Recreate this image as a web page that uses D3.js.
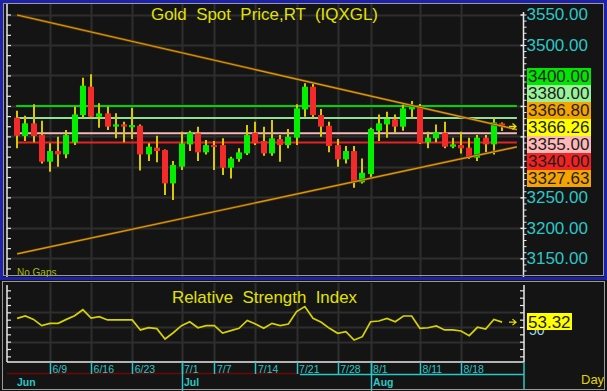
<!DOCTYPE html>
<html><head><meta charset="utf-8">
<script src="https://cdn.jsdelivr.net/npm/d3@7"></script>
<style>
html,body{margin:0;padding:0;background:#141414;overflow:hidden}
svg{display:block;font-family:"Liberation Sans",Arial,sans-serif}
</style></head><body>
<svg id="c" width="607" height="391"></svg>
<script>
// ---------- data ----------
const dates = ["6/3","6/4","6/5","6/6","6/9","6/10","6/11","6/12","6/13","6/16","6/17","6/18","6/19","6/20","6/23","6/24","6/25","6/26","6/27","6/30",
"7/1","7/2","7/3","7/4","7/7","7/8","7/9","7/10","7/11","7/14","7/15","7/16","7/17","7/18","7/21","7/22","7/23","7/24","7/25","7/28","7/29","7/30","7/31",
"8/1","8/4","8/5","8/6","8/7","8/8","8/11","8/12","8/13","8/14","8/15","8/18","8/19","8/20","8/21","8/22","8/25"];
const openP  = [3380.7,3350.6,3371.4,3352.2,3308.5,3326.0,3320.5,3340.0,3385.0,3431.5,3382.3,3387.8,3366.0,3369.7,3365.0,3367.5,3320.5,3331.5,3327.6,3272.9,
3300.3,3336.9,3355.0,3323.8,3335.8,3335.8,3298.6,3313.0,3322.1,3356.1,3342.4,3322.1,3345.7,3335.8,3347.9,3394.3,3431.5,3385.0,3367.5,3335.8,3312.3,3326.0,3274.6,
3288.2,3359.4,3369.7,3377.9,3365.9,3394.3,3397.6,3340.2,3346.8,3356.1,3333.1,3335.8,3331.5,3315.0,3347.9,3336.9,3371.4];
const highP  = [3392.2,3384.0,3402.6,3375.8,3338.6,3349.5,3360.4,3398.7,3446.3,3451.8,3404.2,3398.7,3387.8,3374.0,3397.0,3369.7,3338.6,3351.1,3328.5,3309.6,
3357.7,3359.4,3365.9,3344.0,3342.4,3346.8,3316.7,3330.4,3368.6,3374.1,3365.9,3376.9,3352.2,3362.1,3402.6,3437.0,3437.0,3394.9,3374.1,3345.7,3334.2,3334.2,3313.9,
3364.3,3386.1,3390.5,3386.1,3402.6,3408.0,3403.1,3357.7,3369.7,3374.1,3347.9,3357.7,3347.9,3352.2,3352.2,3379.6,3373.0];
const lowP   = [3330.4,3342.4,3340.2,3305.7,3292.0,3300.3,3314.0,3336.0,3379.6,3380.7,3364.3,3360.4,3346.8,3340.2,3345.7,3294.2,3309.6,3307.4,3253.8,3245.6,
3294.8,3326.0,3309.6,3320.5,3294.8,3286.6,3281.1,3308.5,3319.4,3335.8,3318.3,3318.3,3308.5,3330.4,3335.8,3382.3,3379.6,3349.5,3323.8,3300.3,3305.7,3265.8,3272.9,
3281.1,3342.4,3347.9,3356.1,3359.4,3379.6,3337.5,3330.4,3340.2,3330.4,3330.4,3322.1,3312.8,3309.6,3323.8,3320.5,3358.8];
const closeP = [3351.1,3371.4,3350.6,3308.5,3326.0,3320.5,3352.2,3386.0,3433.2,3382.3,3387.8,3366.0,3369.7,3366.0,3368.6,3320.5,3333.1,3326.0,3272.9,3303.0,
3338.6,3356.1,3323.8,3335.8,3334.0,3298.6,3313.9,3323.8,3352.2,3338.6,3322.1,3346.8,3335.8,3349.5,3396.0,3431.5,3385.0,3366.0,3334.2,3312.3,3326.0,3274.6,3290.4,
3362.1,3371.4,3378.5,3365.9,3396.0,3400.4,3338.6,3347.9,3356.6,3333.1,3336.9,3330.4,3315.0,3347.9,3336.9,3373.0,3366.26];
const rsiValues = [55.9,57.5,55.2,50.9,52.5,52.5,55.2,57.7,61.8,56.1,57.0,54.8,54.8,54.8,54.8,48.0,49.5,48.9,41.8,46.1,
50.9,53.6,49.5,50.9,50.9,45.9,47.5,49.1,54.5,52.0,49.1,52.5,50.9,52.0,60.5,63.9,55.9,53.2,49.1,45.7,46.8,41.1,43.4,
53.6,54.1,55.9,53.6,57.5,57.5,49.1,49.5,50.7,48.0,48.0,47.3,44.1,49.8,48.6,55.2,53.32];
const levelValues = [3400, 3380, 3355, 3340];
const trendDownEnds = [3549.2, 3366.80];   // value at first bar, value at last bar
const trendUpEnds   = [3157.2, 3327.63];
const priceTicks = [3550, 3500, 3450, 3400, 3350, 3300, 3250, 3200, 3150];
const priceLabels = [3550, 3500, 3250, 3200, 3150];
const boxLabels = ["3400.00","3380.00","3366.80","3366.26","3355.00","3340.00","3327.63"];
const dateTicks = ["6/9","6/16","6/23","7/1","7/7","7/14","7/21","7/28","8/1","8/11","8/18"];
const monthNames = ["Jun","Jul","Aug"];
const monthStarts = ["6/3","7/1","8/1"];
const rsiGrid = [40, 50, 60];
const rsiLast = "53.32";
const title1 = "Gold  Spot  Price,RT  (IQXGL)";
const title2 = "Relative  Strength  Index";

// ---------- styles ----------
const levelColors = ["#00d400","#8fe28f","#f2b8b8","#e42222"];
const boxColors = ["#00e600","#99f299","#f5a300","#ffff00","#ffb8b8","#f02222","#f5a300"];
const CYAN = "#2cc6c6", YEL = "#e2e200", GRID = "#2e2e2e";

// ---------- chart ----------
const svg = d3.select("#c");
const n = dates.length;
const x = d3.scaleLinear().domain([0, n-1]).range([17.1, 502.1]);
const y = d3.scaleLinear().domain([3150, 3550]).range([258.3, 14.5]);
const yr = d3.scaleLinear().domain([40, 60]).range([341.67, 312.33]);
const P = {l:7, r:524, t:4, b:277};
const R = {l:7, r:524, t:283, b:362};
const extI = 60.8;
const dIdx = dateTicks.map(d => dates.indexOf(d));

svg.append("rect").attr("width",607).attr("height",391).attr("fill","#141414");

// grids
function vgrid(top, bot){
  svg.append("g").selectAll("line").data(dIdx).join("line")
    .attr("x1", i => Math.round(x(i))+0.5).attr("x2", i => Math.round(x(i))+0.5)
    .attr("y1", top).attr("y2", bot).attr("stroke", GRID).attr("stroke-width",2);
}
vgrid(P.t, P.b); vgrid(R.t, R.b);
svg.append("g").selectAll("line").data(priceTicks).join("line")
  .attr("x1", P.l).attr("x2", P.r).attr("y1", d => Math.round(y(d))+0.5).attr("y2", d => Math.round(y(d))+0.5)
  .attr("stroke", GRID).attr("stroke-width",2);
svg.append("g").selectAll("line").data(rsiGrid).join("line")
  .attr("x1", R.l).attr("x2", R.r).attr("y1", d => Math.round(yr(d))+0.5).attr("y2", d => Math.round(yr(d))+0.5)
  .attr("stroke", GRID).attr("stroke-width",2);

// horizontal level lines
svg.append("g").selectAll("line").data(levelValues).join("line")
  .attr("x1", x(0)-1).attr("x2", x(extI))
  .attr("y1", d => y(d)).attr("y2", d => y(d))
  .attr("stroke", (d,i) => levelColors[i]).attr("stroke-width", 2);

// candles
const idx = d3.range(n);
const cg = svg.append("g");
cg.selectAll("line").data(idx).join("line")
  .attr("x1", i => Math.round(x(i))).attr("x2", i => Math.round(x(i)))
  .attr("y1", i => y(highP[i])).attr("y2", i => y(lowP[i]))
  .attr("stroke", "#d8c800").attr("stroke-width", 2);
cg.selectAll("rect").data(idx).join("rect")
  .attr("x", i => Math.round(x(i))-3).attr("width", 6)
  .attr("y", i => y(Math.max(openP[i], closeP[i])))
  .attr("height", i => Math.max(2, Math.abs(y(openP[i]) - y(closeP[i]))))
  .attr("fill", i => closeP[i] >= openP[i] ? "#00f000" : "#f42a2a");

// trend lines
function trend(ends){
  const s = (ends[1]-ends[0])/(n-1);
  const pts = [[0, ends[0]], [extI, ends[0] + s*extI]];
  const ln = d3.line().x(d => x(d[0])).y(d => y(d[1]));
  svg.append("path").attr("d", ln(pts))
    .attr("fill","none").attr("stroke","#6a4600").attr("stroke-width",2.4);
  svg.append("path").attr("d", ln(pts))
    .attr("fill","none").attr("stroke","#e09a10").attr("stroke-width",1.2);
}
trend(trendDownEnds); trend(trendUpEnds);

// arrows
function arrow(yy){
  svg.append("path").attr("d", `M509,${yy}H516M512.5,${yy-3}L516,${yy}L512.5,${yy+3}`)
    .attr("fill","none").attr("stroke","#e8e000").attr("stroke-width",1.3);
}
arrow(y(closeP[n-1]));

// RSI line
svg.append("path").datum(rsiValues)
  .attr("d", d3.line().x((d,i) => x(i)).y(d => yr(d)))
  .attr("fill","none").attr("stroke","#d6d200").attr("stroke-width",1.7);
arrow(yr(rsiValues[n-1]));

// axes lines
const axisCol = "#e8e8e8";
svg.append("line").attr("x1",P.l).attr("x2",P.l).attr("y1",P.t).attr("y2",P.b).attr("stroke",axisCol).attr("stroke-width",1.5);
svg.append("line").attr("x1",P.r-0.5).attr("x2",P.r-0.5).attr("y1",P.t+8).attr("y2",P.b).attr("stroke",axisCol).attr("stroke-width",1.5);
svg.append("line").attr("x1",R.l).attr("x2",R.l).attr("y1",R.t+2).attr("y2",R.b).attr("stroke",axisCol).attr("stroke-width",1.5);
svg.append("line").attr("x1",R.r).attr("x2",R.r).attr("y1",R.t+2).attr("y2",R.b).attr("stroke",axisCol).attr("stroke-width",1.5);
svg.append("line").attr("x1",R.l).attr("x2",R.r).attr("y1",R.b).attr("y2",R.b).attr("stroke",axisCol).attr("stroke-width",1.5);

// left ticks (top panel)
const leftTicks = d3.range(0, 26).map(k => 3550 - k*50/3);
svg.append("g").attr("transform",`translate(${P.l},0)`)
  .call(d3.axisRight(y).tickValues(leftTicks).tickSize(4).tickFormat(""))
  .call(g => g.select(".domain").remove())
  .selectAll("line").attr("stroke",axisCol).attr("stroke-width",1.2);
// right ticks
svg.append("g").attr("transform",`translate(${P.r-0.5},0)`)
  .call(d3.axisRight(y).tickValues(d3.range(3130, 3551, 10)).tickSize(3).tickFormat(""))
  .call(g => g.select(".domain").remove())
  .selectAll("line").attr("stroke",axisCol);
svg.append("g").attr("transform",`translate(${P.r-0.5},0)`)
  .call(d3.axisLeft(y).tickValues(priceTicks).tickSize(3).tickFormat(""))
  .call(g => g.select(".domain").remove())
  .selectAll("line").attr("stroke",axisCol).attr("stroke-width",1.5);
// RSI ticks
svg.append("g").attr("transform",`translate(${R.l},0)`)
  .call(d3.axisRight(yr).tickValues(d3.range(30, 76, 5)).tickSize(4).tickFormat(""))
  .call(g => g.select(".domain").remove())
  .selectAll("line").attr("stroke",axisCol).attr("stroke-width",1.2);
svg.append("g").attr("transform",`translate(${R.r},0)`)
  .call(d3.axisLeft(yr).tickValues(d3.range(30, 76, 5)).tickSize(4).tickFormat(""))
  .call(g => g.select(".domain").remove())
  .selectAll("line").attr("stroke",axisCol).attr("stroke-width",1.2);

// right price labels
svg.append("g").attr("transform",`translate(${P.r-0.5},0)`)
  .call(d3.axisRight(y).tickValues(priceLabels).tickSize(0).tickPadding(3).tickFormat(d3.format(".2f")))
  .call(g => g.select(".domain").remove())
  .selectAll("text").attr("fill",CYAN).attr("font-size","17px").attr("font-family",'"Liberation Sans",Arial,sans-serif');

// value boxes
const bx = svg.append("g");
boxLabels.forEach((t,k) => {
  const top = 68 + k*17;
  bx.append("rect").attr("x",527).attr("y",top).attr("width",64).attr("height",17).attr("fill",boxColors[k]);
  bx.append("text").attr("x",528).attr("y",top+14.3).attr("font-size","17px").attr("fill","#1e1e1e").text(t);
});

// RSI label (axis "50" partly hidden under the value box)
svg.append("defs").append("clipPath").attr("id","below").append("rect").attr("x",520).attr("y",330).attr("width",80).attr("height",20);
svg.append("text").attr("x",529).attr("y",yr(50)+8).attr("font-size","14px").attr("fill","#9fd8e8").attr("clip-path","url(#below)").text("50");
svg.append("rect").attr("x",527).attr("y",313).attr("width",45).attr("height",17).attr("fill","#ffff00");
svg.append("text").attr("x",528).attr("y",327.5).attr("font-size","17px").attr("fill","#1e1e1e").text(rsiLast);

// titles
svg.append("text").attr("x",151).attr("y",20).attr("font-size","17px").attr("fill",YEL)
  .style("white-space","pre").attr("textLength",227).attr("lengthAdjust","spacingAndGlyphs").text(title1);
svg.append("text").attr("x",172).attr("y",303).attr("font-size","17px").attr("fill",YEL)
  .style("white-space","pre").attr("textLength",185).attr("lengthAdjust","spacingAndGlyphs").text(title2);
svg.append("text").attr("x",17).attr("y",275.5).attr("font-size","10px").attr("fill","#a8bc00").text("No Gaps");

// date axis
svg.append("line").attr("x1",R.l).attr("x2",300).attr("y1",373.5).attr("y2",373.5).attr("stroke","#6a0808").attr("stroke-width",1.5);
svg.append("line").attr("x1",300).attr("x2",R.r).attr("y1",374.5).attr("y2",374.5).attr("stroke",CYAN).attr("stroke-width",1.5);
svg.append("g").selectAll("line").data(dIdx).join("line")
  .attr("x1", i => Math.round(x(i))+0.5).attr("x2", i => Math.round(x(i))+0.5)
  .attr("y1", R.b).attr("y2", 374).attr("stroke", CYAN).attr("stroke-width",1.5);
svg.append("g").selectAll("text").data(dIdx).join("text")
  .attr("x", i => x(i)+2.5).attr("y", 372.5).attr("font-size","10.5px").attr("fill",CYAN)
  .text((i,k) => dateTicks[k]);
const mIdx = monthStarts.map(d => dates.indexOf(d));
svg.append("g").selectAll("line").data(mIdx.slice(1)).join("line")
  .attr("x1", i => Math.round(x(i))+0.5).attr("x2", i => Math.round(x(i))+0.5)
  .attr("y1", R.b).attr("y2", 391).attr("stroke", CYAN).attr("stroke-width",1.5);
svg.append("line").attr("x1",R.r).attr("x2",R.r).attr("y1",R.b).attr("y2",389).attr("stroke",CYAN).attr("stroke-width",1.5);
svg.append("g").selectAll("text").data(mIdx).join("text")
  .attr("x", (i,k) => k === 0 ? 17 : x(i)+2.5).attr("y", 385.5).attr("font-size","10.5px").attr("font-weight","bold").attr("fill",CYAN)
  .text((i,k) => monthNames[k]);
svg.append("text").attr("x",581).attr("y",384).attr("font-size","13px").attr("fill","#e0d400").text("Day");

// frames
svg.append("rect").attr("x",2.5).attr("y",281.5).attr("width",602).attr("height",108).attr("fill","none").attr("stroke","#9a9a9a");
svg.append("rect").attr("x",3.5).attr("y",3.5).attr("width",600).attr("height",272).attr("fill","none").attr("stroke","#9a9a9a");
svg.append("rect").attr("x",1.5).attr("y",1.5).attr("width",604).attr("height",277).attr("fill","none").attr("stroke","#1e22a8").attr("stroke-width",3);
</script></body></html>
